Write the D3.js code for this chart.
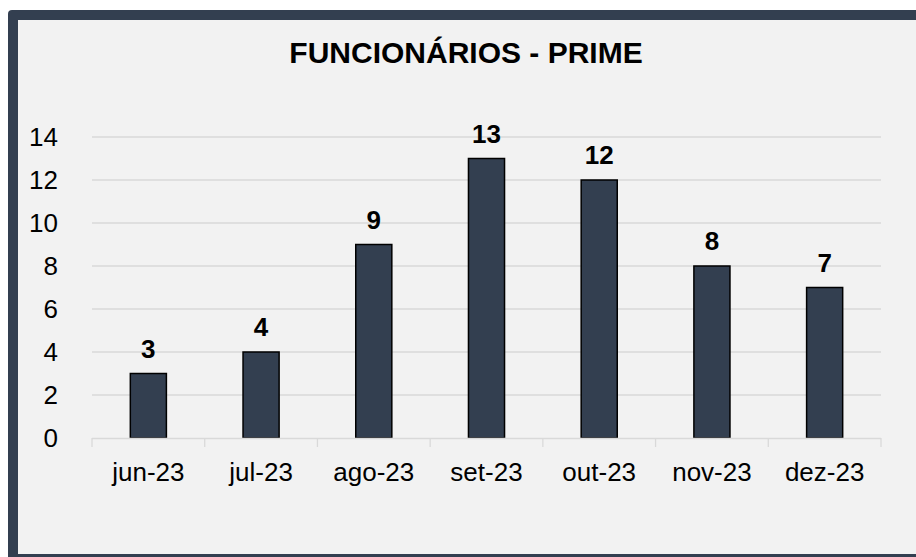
<!DOCTYPE html>
<html>
<head>
<meta charset="utf-8">
<script src="https://cdn.jsdelivr.net/npm/d3@7"></script>
<style>
  body { margin: 0; background: #fff; }
  svg { display: block; font-family: "Liberation Sans", Arial, sans-serif; }
</style>
</head>
<body>
<svg id="chart" width="916" height="557"></svg>
<script>
// Chart data
const months = ['jun-23', 'jul-23', 'ago-23', 'set-23', 'out-23', 'nov-23', 'dez-23'];
const employees = [3, 4, 9, 13, 12, 8, 7];
const yTicks = [0, 2, 4, 6, 8, 10, 12, 14];

const svg = d3.select('#chart');

// Frame: dark border running off the right/bottom edges
svg.append('rect')
    .attr('x', 8).attr('y', 10)
    .attr('width', 930).attr('height', 570)
    .attr('rx', 4)
    .attr('fill', '#333f50');
svg.append('rect')
    .attr('x', 18).attr('y', 20)
    .attr('width', 910).attr('height', 534)
    .attr('fill', '#f2f2f2');

// Scales
const x = d3.scaleBand().domain(months).range([92, 881]).paddingInner(0.68).paddingOuter(0.34);
const y = d3.scaleLinear().domain([0, 14]).range([438, 137]);

// Gridlines
svg.append('g')
    .selectAll('line')
    .data(yTicks.filter(d => d > 0))
    .join('line')
    .attr('x1', 92).attr('x2', 881)
    .attr('y1', d => y(d)).attr('y2', d => y(d))
    .attr('stroke', '#d9d9d9').attr('stroke-width', 1.3);

// Y axis labels
svg.append('g')
    .selectAll('text')
    .data(yTicks)
    .join('text')
    .attr('x', 58).attr('y', d => y(d))
    .attr('dy', '0.36em')
    .attr('text-anchor', 'end')
    .attr('font-size', 26)
    .attr('fill', '#000')
    .text(d => d);

// Bars
svg.append('g')
    .selectAll('rect')
    .data(employees)
    .join('rect')
    .attr('x', (d, i) => x(months[i]))
    .attr('y', d => y(d))
    .attr('width', x.bandwidth())
    .attr('height', d => y(0) - y(d))
    .attr('fill', '#333f50')
    .attr('stroke', '#000')
    .attr('stroke-width', 1.5);

// X axis with boundary ticks
const step = x.step();
const xAxis = svg.append('g');
xAxis.append('line')
    .attr('x1', 92).attr('x2', 881)
    .attr('y1', 438.5).attr('y2', 438.5)
    .attr('stroke', '#d9d9d9').attr('stroke-width', 1.3);
xAxis.selectAll('line.tick')
    .data(d3.range(months.length + 1))
    .join('line')
    .attr('class', 'tick')
    .attr('x1', i => 92 + i * step).attr('x2', i => 92 + i * step)
    .attr('y1', 438).attr('y2', 447)
    .attr('stroke', '#d9d9d9').attr('stroke-width', 1.3);
xAxis.selectAll('text')
    .data(months)
    .join('text')
    .attr('x', d => x(d) + x.bandwidth() / 2)
    .attr('y', 481)
    .attr('text-anchor', 'middle')
    .attr('font-size', 26)
    .attr('fill', '#000')
    .text(d => d);

// Data labels
svg.append('g')
    .selectAll('text')
    .data(employees)
    .join('text')
    .attr('x', (d, i) => x(months[i]) + x.bandwidth() / 2)
    .attr('y', d => y(d) - 16)
    .attr('text-anchor', 'middle')
    .attr('font-size', 26)
    .attr('font-weight', 'bold')
    .attr('fill', '#000')
    .text(d => d);

// Title
svg.append('text')
    .attr('x', 466).attr('y', 63)
    .attr('text-anchor', 'middle')
    .attr('font-size', 30)
    .attr('font-weight', 'bold')
    .attr('fill', '#000')
    .text('FUNCIONÁRIOS - PRIME');
</script>
</body>
</html>
